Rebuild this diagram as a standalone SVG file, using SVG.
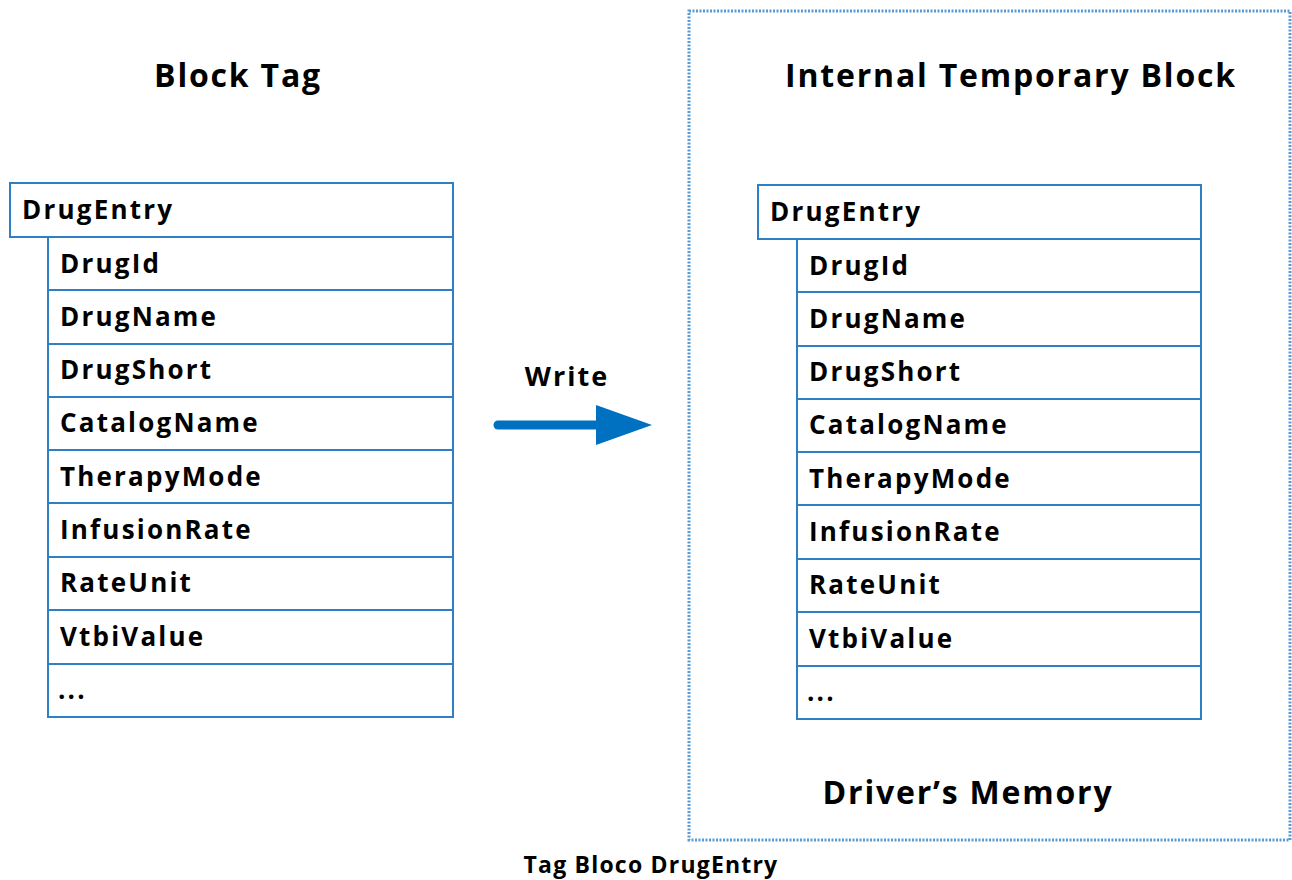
<svg xmlns="http://www.w3.org/2000/svg" width="1292" height="880" viewBox="0 0 1292 880">
<style>
.t{font-family:"Open Sans","Noto Sans","Liberation Sans",sans-serif;font-weight:bold;fill:#000}
.h{font-size:32px;letter-spacing:1.8px}
.r{font-size:26px;letter-spacing:2.2px}
.box{fill:#fff;stroke:#2e7fc4;stroke-width:2}
</style>
<rect width="1292" height="880" fill="#fff"/>
<g id="memory">
<rect x="689" y="11" width="601" height="829" fill="none" stroke="#5b9bd5" stroke-width="3" stroke-dasharray="2,1.5"/>
<text class="t h" x="1011" y="87" text-anchor="middle">Internal Temporary Block</text>
<text class="t h" x="968" y="804" text-anchor="middle">Driver’s Memory</text>
</g>
<g id="blocktag">
<text class="t h" x="238" y="87" text-anchor="middle">Block Tag</text>
<rect class="box" x="10" y="183" width="443" height="54"/>
<text class="t r" x="22" y="219">DrugEntry</text>
<rect class="box" x="48" y="237" width="405" height="53"/>
<text class="t r" x="60" y="273">DrugId</text>
<rect class="box" x="48" y="290" width="405" height="54"/>
<text class="t r" x="60" y="326">DrugName</text>
<rect class="box" x="48" y="344" width="405" height="53"/>
<text class="t r" x="60" y="379">DrugShort</text>
<rect class="box" x="48" y="397" width="405" height="53"/>
<text class="t r" x="60" y="432">CatalogName</text>
<rect class="box" x="48" y="450" width="405" height="53"/>
<text class="t r" x="60" y="486">TherapyMode</text>
<rect class="box" x="48" y="503" width="405" height="54"/>
<text class="t r" x="60" y="539">InfusionRate</text>
<rect class="box" x="48" y="557" width="405" height="53"/>
<text class="t r" x="60" y="592">RateUnit</text>
<rect class="box" x="48" y="610" width="405" height="54"/>
<text class="t r" x="60" y="646">VtbiValue</text>
<rect class="box" x="48" y="664" width="405" height="53"/>
<text class="t r" x="58" y="699">...</text>
</g>
<g id="tempblock">
<rect class="box" x="758" y="185" width="443" height="54"/>
<text class="t r" x="770" y="221">DrugEntry</text>
<rect class="box" x="797" y="239" width="404" height="53"/>
<text class="t r" x="809" y="275">DrugId</text>
<rect class="box" x="797" y="292" width="404" height="54"/>
<text class="t r" x="809" y="328">DrugName</text>
<rect class="box" x="797" y="346" width="404" height="53"/>
<text class="t r" x="809" y="381">DrugShort</text>
<rect class="box" x="797" y="399" width="404" height="53"/>
<text class="t r" x="809" y="434">CatalogName</text>
<rect class="box" x="797" y="452" width="404" height="53"/>
<text class="t r" x="809" y="488">TherapyMode</text>
<rect class="box" x="797" y="505" width="404" height="54"/>
<text class="t r" x="809" y="541">InfusionRate</text>
<rect class="box" x="797" y="559" width="404" height="53"/>
<text class="t r" x="809" y="594">RateUnit</text>
<rect class="box" x="797" y="612" width="404" height="54"/>
<text class="t r" x="809" y="648">VtbiValue</text>
<rect class="box" x="797" y="666" width="404" height="53"/>
<text class="t r" x="807" y="701">...</text>
</g>
<g id="connectors">
<line x1="498" y1="425" x2="600" y2="425" stroke="#0070c0" stroke-width="9" stroke-linecap="round"/>
<polygon points="596,405 652,425 596,445" fill="#0070c0"/>
<text class="t" font-size="27" letter-spacing="2" x="567" y="386" text-anchor="middle">Write</text>
</g>
<text class="t" font-size="23" letter-spacing="1.2" x="651" y="873" text-anchor="middle">Tag Bloco DrugEntry</text>
</svg>
